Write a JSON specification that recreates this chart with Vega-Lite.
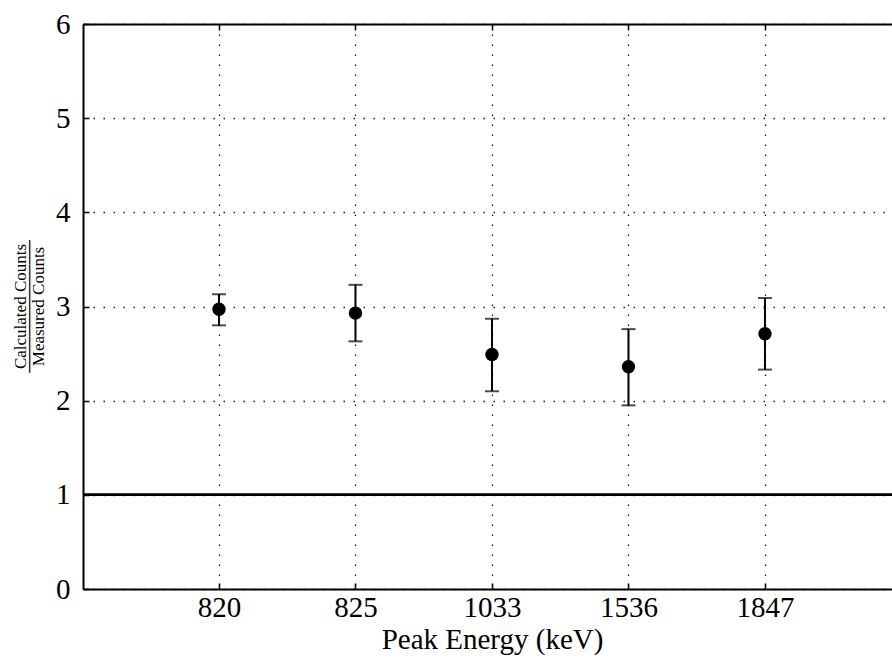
{
  "$schema": "https://vega.github.io/schema/vega-lite/v6.json",
  "width": 809,
  "height": 565,
  "autosize": "none",
  "padding": {"left": 83, "top": 24, "right": 0, "bottom": 69},
  "background": "white",
  "config": {
    "view": {"stroke": null},
    "font": "Liberation Serif",
    "axis": {"labelFont": "Liberation Serif", "titleFont": "Liberation Serif", "labelColor": "black", "titleColor": "black", "titleFontWeight": "normal"}
  },
  "data": {
    "values": [
      {"energy": "820", "ratio": 2.97, "lo": 2.80, "hi": 3.13},
      {"energy": "825", "ratio": 2.93, "lo": 2.63, "hi": 3.23},
      {"energy": "1033", "ratio": 2.49, "lo": 2.10, "hi": 2.87},
      {"energy": "1536", "ratio": 2.36, "lo": 1.95, "hi": 2.76},
      {"energy": "1847", "ratio": 2.71, "lo": 2.33, "hi": 3.09}
    ]
  },
  "layer": [
    {
      "mark": {"type": "rule", "color": "black", "strokeWidth": 2},
      "encoding": {
        "x": {"field": "energy", "type": "nominal", "sort": null,
              "scale": {"type": "point", "domain": ["820", "825", "1033", "1536", "1847"], "padding": 0.9634, "align": 0.517},
              "axis": {"orient": "bottom", "title": "Peak Energy (keV)", "labelAngle": 0,
                       "labelFontSize": 29, "labelBaseline": "alphabetic", "labelPadding": 33,
                       "tickSize": -6, "tickColor": "black", "tickWidth": 1.5,
                       "domainColor": "black", "domainWidth": 2,
                       "grid": true, "gridColor": "black", "gridDash": [1.5, 8.5], "gridWidth": 1.3, "gridOpacity": 0.9,
                       "titleFontSize": 29, "titleX": 409, "titleY": 59, "titleBaseline": "alphabetic", "titleAlign": "center"}},
        "y": {"field": "lo", "type": "quantitative",
              "scale": {"domain": [0, 6], "nice": false, "zero": false},
              "axis": {"values": [0, 1, 2, 3, 4, 5, 6],
                       "title": ["Calculated Counts", "\u2500\u2500\u2500\u2500\u2500\u2500\u2500\u2500\u2500\u2500\u2500", "Measured Counts"],
                       "titleFontSize": 17, "titleLineHeight": 9, "titleAngle": -90, "titleBaseline": "alphabetic",
                       "titleX": -58, "titleY": 282, "titleAlign": "center",
                       "labelFontSize": 29, "labelPadding": 19,
                       "tickSize": -6, "tickColor": "black", "tickWidth": 1.5,
                       "domainColor": "black", "domainWidth": 2,
                       "grid": true, "gridColor": "black", "gridDash": [1.5, 8.5], "gridWidth": 1.3, "gridOpacity": 0.9}},
        "y2": {"field": "hi"}
      }
    },
    {
      "mark": {"type": "rule", "color": "black", "strokeWidth": 2},
      "encoding": {"y": {"datum": 1, "type": "quantitative", "axis": null}}
    },
    {
      "mark": {"type": "tick", "color": "black", "thickness": 2, "size": 14, "orient": "horizontal"},
      "encoding": {
        "x": {"field": "energy", "type": "nominal", "sort": null, "axis": null},
        "y": {"field": "lo", "type": "quantitative", "axis": null}
      }
    },
    {
      "mark": {"type": "tick", "color": "black", "thickness": 2, "size": 14, "orient": "horizontal"},
      "encoding": {
        "x": {"field": "energy", "type": "nominal", "sort": null, "axis": null},
        "y": {"field": "hi", "type": "quantitative", "axis": null}
      }
    },
    {
      "mark": {"type": "circle", "color": "black", "opacity": 1, "size": 180},
      "encoding": {
        "x": {"field": "energy", "type": "nominal", "sort": null, "axis": null},
        "y": {"field": "ratio", "type": "quantitative", "axis": null}
      }
    },
    {
      "mark": {"type": "point", "opacity": 0},
      "encoding": {
        "x": {"field": "energy", "type": "nominal", "sort": null,
              "axis": {"orient": "top", "labels": false, "title": null, "grid": false,
                       "tickSize": -6, "tickColor": "black", "tickWidth": 1.5,
                       "domainColor": "black", "domainWidth": 2}},
        "y": {"field": "ratio", "type": "quantitative", "axis": null}
      }
    }
  ],
  "resolve": {"axis": {"x": "independent", "y": "independent"}}
}
